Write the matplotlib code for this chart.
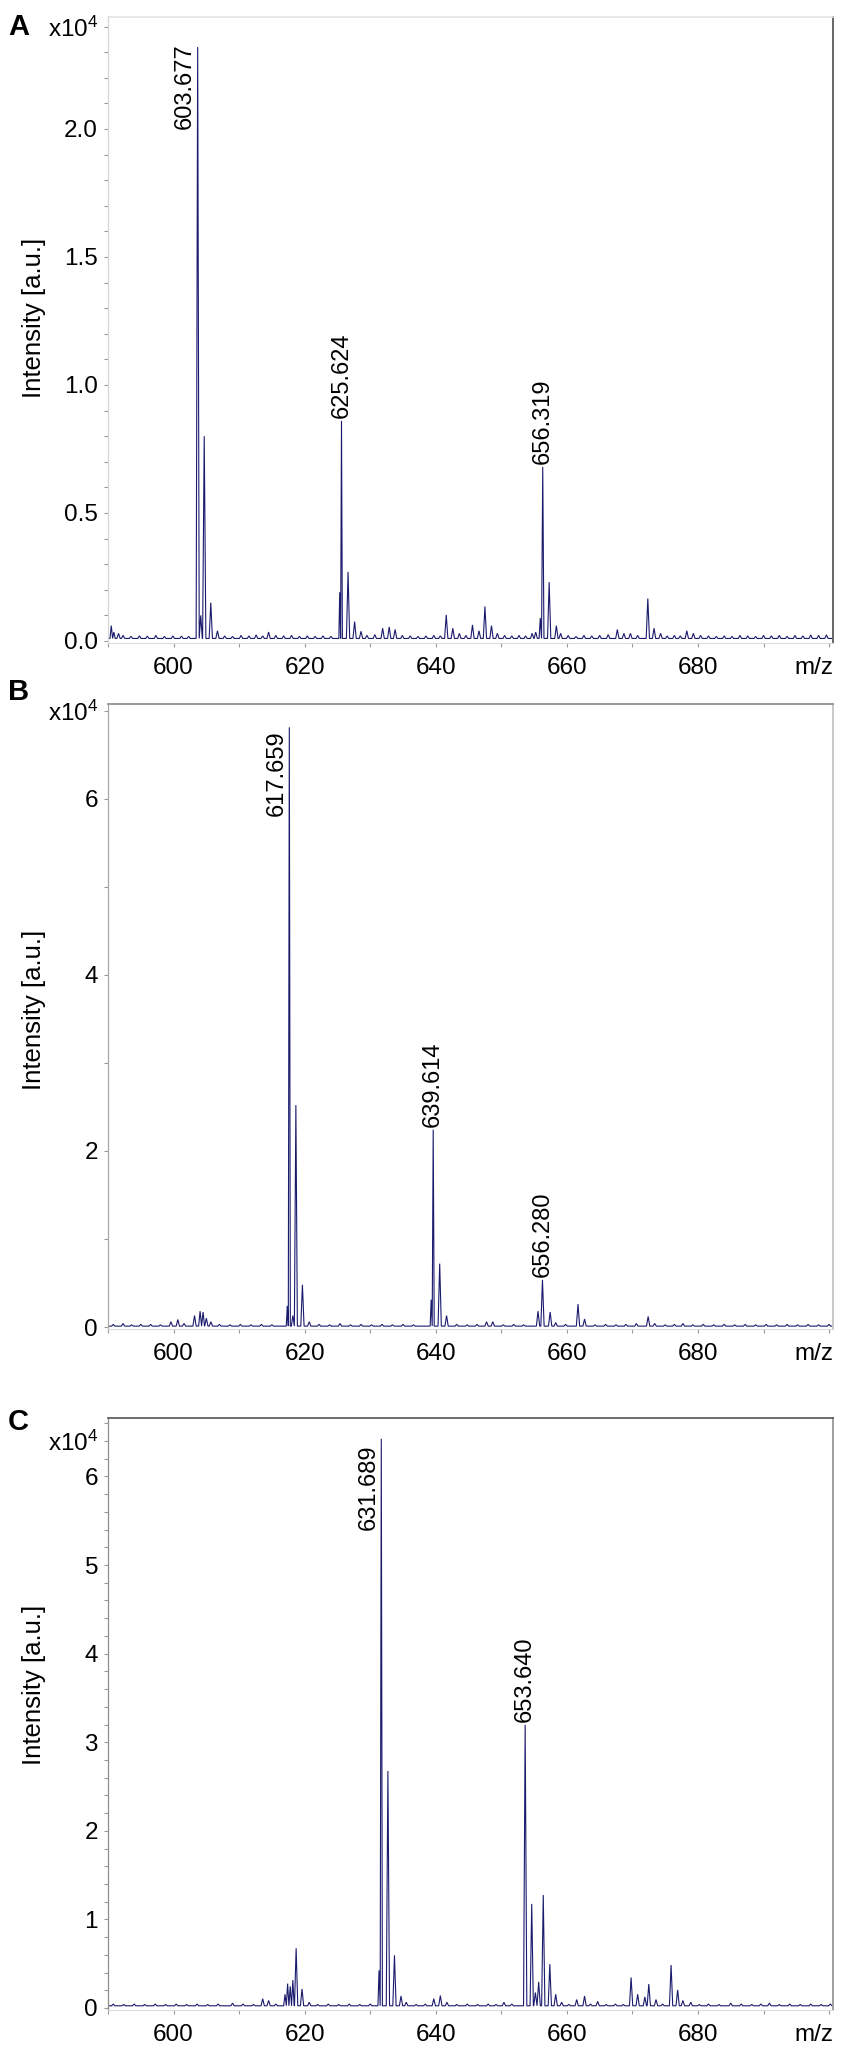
import matplotlib
matplotlib.use("Agg")
import matplotlib.pyplot as plt
from matplotlib.ticker import FixedLocator, FixedFormatter, MultipleLocator

plt.rcParams['font.family'] = ['Liberation Sans', 'DejaVu Sans']
plt.rcParams['mathtext.default'] = 'regular'

# ---------------- data (intensity in units of 10^4) ----------------
# Panel A
peaks_a = [(590.5, 0.05), (590.9, 0.025), (591.6, 0.02),
           (603.68, 2.31), (604.15, 0.09), (604.68, 0.79), (605.68, 0.14), (606.7, 0.03),
           (614.5, 0.025), (625.35, 0.18), (625.62, 0.85), (626.62, 0.26), (627.62, 0.066),
           (628.6, 0.028), (631.9, 0.04), (632.9, 0.045), (633.8, 0.035),
           (641.6, 0.092), (642.6, 0.04), (643.6, 0.02),
           (645.6, 0.053), (646.6, 0.03), (647.5, 0.125), (648.5, 0.05), (649.4, 0.02),
           (654.7, 0.02), (655.25, 0.025), (655.95, 0.08), (656.32, 0.67), (657.3, 0.22),
           (658.4, 0.05), (659.05, 0.02), (667.7, 0.035), (668.7, 0.02), (669.7, 0.02),
           (672.35, 0.156), (673.3, 0.04), (674.3, 0.02), (678.3, 0.03), (679.3, 0.02)]
ripple_a = [(592.3, 0.012), (593.5, 0.008), (594.8, 0.010), (596.0, 0.009), (597.3, 0.012),
            (598.6, 0.008), (599.9, 0.010), (601.2, 0.009), (602.3, 0.008), (607.8, 0.010),
            (609.0, 0.008), (610.3, 0.012), (611.5, 0.010), (612.6, 0.014), (613.6, 0.010),
            (615.6, 0.012), (616.8, 0.010), (618.0, 0.012), (619.2, 0.008), (620.4, 0.010),
            (621.6, 0.008), (622.8, 0.010), (624.0, 0.008), (629.5, 0.012), (630.7, 0.015),
            (634.9, 0.012), (636.1, 0.010), (637.3, 0.008), (638.5, 0.010), (639.7, 0.012),
            (640.7, 0.010), (644.6, 0.012), (650.5, 0.012), (651.6, 0.010), (652.7, 0.012),
            (653.7, 0.010), (660.2, 0.012), (661.4, 0.008), (662.6, 0.012), (663.8, 0.010),
            (665.0, 0.012), (666.3, 0.015), (670.8, 0.012), (675.3, 0.010), (676.4, 0.012),
            (677.3, 0.010), (680.4, 0.012), (681.6, 0.010), (682.8, 0.008), (684.0, 0.010),
            (685.2, 0.008), (686.4, 0.012), (687.6, 0.010), (688.8, 0.008), (690.0, 0.012),
            (691.2, 0.010), (692.4, 0.012), (693.6, 0.008), (694.8, 0.012), (696.0, 0.010),
            (697.2, 0.014), (698.4, 0.012), (699.6, 0.014)]
labels_a = [(603.68, 2.31, '603.677'), (625.62, 0.85, '625.624'), (656.32, 0.67, '656.319')]
base_a = 0.01

# Panel B
peaks_b = [(592.3, 0.03), (595.0, 0.02), (599.6, 0.05), (600.65, 0.075), (601.6, 0.03),
           (603.2, 0.12), (604.05, 0.17), (604.5, 0.16), (605.0, 0.09), (605.7, 0.05),
           (617.35, 0.23), (617.66, 6.80), (618.2, 0.12), (618.66, 2.51), (619.66, 0.47),
           (620.7, 0.05), (639.3, 0.30), (639.61, 2.23), (640.6, 0.71), (641.65, 0.12),
           (647.75, 0.05), (648.7, 0.05), (655.6, 0.17), (656.28, 0.525), (657.45, 0.16),
           (658.3, 0.04), (661.7, 0.25), (662.7, 0.08), (672.4, 0.11), (673.4, 0.03),
           (677.7, 0.03)]
ripple_b = [(590.8, 0.02), (593.6, 0.015), (596.5, 0.02), (598.0, 0.015), (607.0, 0.02),
            (608.6, 0.015), (610.2, 0.02), (611.8, 0.015), (613.4, 0.02), (615.0, 0.015),
            (622.2, 0.02), (623.8, 0.015), (625.4, 0.03), (627.0, 0.015), (628.6, 0.02),
            (630.2, 0.015), (631.8, 0.02), (633.4, 0.015), (635.0, 0.02), (636.6, 0.015),
            (643.2, 0.02), (644.8, 0.015), (646.3, 0.02), (650.3, 0.015), (651.9, 0.02),
            (653.4, 0.015), (659.8, 0.02), (664.3, 0.015), (665.9, 0.02), (667.5, 0.015),
            (669.0, 0.02), (670.6, 0.03), (675.0, 0.015), (676.4, 0.02), (679.2, 0.015),
            (680.8, 0.02), (682.4, 0.015), (684.0, 0.02), (685.6, 0.015), (687.2, 0.02),
            (688.8, 0.015), (690.4, 0.02), (692.0, 0.015), (693.6, 0.02), (695.2, 0.015),
            (696.8, 0.02), (698.4, 0.015), (700.0, 0.02)]
labels_b = [(617.66, 6.80, '617.659'), (639.61, 2.23, '639.614'), (656.28, 0.525, '656.280')]
base_b = 0.01

# Panel C
peaks_c = [(609.0, 0.03), (613.6, 0.08), (614.5, 0.06), (617.0, 0.13), (617.4, 0.25),
           (617.8, 0.22), (618.2, 0.29), (618.7, 0.65), (619.6, 0.19), (620.7, 0.04),
           (631.35, 0.40), (631.69, 6.40), (632.7, 2.65), (633.7, 0.57), (634.7, 0.11),
           (635.5, 0.04), (639.7, 0.08), (640.7, 0.115), (641.7, 0.04), (650.4, 0.04),
           (653.64, 3.17), (654.64, 1.15), (655.2, 0.15), (655.7, 0.27), (656.4, 1.25),
           (657.4, 0.47), (658.3, 0.13), (659.2, 0.04), (661.5, 0.07), (662.7, 0.11),
           (664.7, 0.05), (669.8, 0.32), (670.8, 0.13), (671.9, 0.10), (672.5, 0.245),
           (673.6, 0.07), (675.9, 0.46), (676.9, 0.18), (677.7, 0.06), (678.9, 0.04),
           (685.0, 0.03), (690.9, 0.03)]
ripple_c = [(590.8, 0.02), (592.4, 0.015), (594.0, 0.02), (595.6, 0.015), (597.2, 0.02),
            (598.8, 0.015), (600.4, 0.02), (602.0, 0.015), (603.6, 0.02), (605.2, 0.015),
            (606.8, 0.02), (610.6, 0.02), (612.2, 0.015), (615.6, 0.02), (622.0, 0.015),
            (623.6, 0.02), (625.2, 0.015), (626.8, 0.02), (628.4, 0.015), (630.0, 0.02),
            (637.0, 0.015), (638.4, 0.02), (643.2, 0.015), (644.8, 0.02), (646.4, 0.015),
            (648.0, 0.02), (649.2, 0.015), (651.6, 0.02), (660.3, 0.015), (663.6, 0.02),
            (666.0, 0.015), (667.4, 0.02), (668.6, 0.015), (674.6, 0.02), (680.2, 0.015),
            (681.6, 0.02), (683.2, 0.015), (686.6, 0.02), (688.2, 0.015), (689.6, 0.02),
            (692.4, 0.015), (694.0, 0.02), (695.6, 0.015), (697.2, 0.02), (698.8, 0.015),
            (700.2, 0.02)]
labels_c = [(631.69, 6.40, '631.689'), (653.64, 3.17, '653.640')]
base_c = 0.025

# axis ticks
xticks_major = [600, 620, 640, 660, 680]
xtick_labels = ['600', '620', '640', '660', '680']
yticks_a = [0.0, 0.5, 1.0, 1.5, 2.0, 2.4]
ylabels_a = ['0.0', '0.5', '1.0', '1.5', '2.0', 'x10$^4$']
yticks_b = [0, 2, 4, 6, 7]
ylabels_b = ['0', '2', '4', '6', 'x10$^4$']
yticks_c = [0, 1, 2, 3, 4, 5, 6, 6.4]
ylabels_c = ['0', '1', '2', '3', '4', '5', '6', 'x10$^4$']

# ---------------- figure ----------------
W, H = 851, 2060
fig = plt.figure(figsize=(W / 100, H / 100), dpi=100)

LINE = '#1b1b6e'
FS = 17.5
FS_PEAK = 17


def build(peaks, ripples, base, x0=589.0, x1=702.0, wmax=0.25):
    pk = sorted(peaks + ripples)
    xs, ys = [x0], [base]
    for i, (m, h) in enumerate(pk):
        gl = m - pk[i - 1][0] if i > 0 else 10.0
        gr = pk[i + 1][0] - m if i < len(pk) - 1 else 10.0
        w = min(wmax, gl / 2.0, gr / 2.0)
        xs += [m - w, m, m + w]
        ys += [base, base + h, base]
    xs.append(x1)
    ys.append(base)
    return xs, ys


all_labels = []


def panel(top_px, zero_px, ymax, peaks, ripples, base, labels, yt, yl, yminor,
          letter, letter_base_px, ylab_frac, spine_cols):
    left, right = 108, 833
    bottom_px = zero_px + 2
    px_per_unit = (zero_px - top_px) / ymax
    ymin = -(bottom_px - zero_px) / px_per_unit
    ax = fig.add_axes([left / W, 1 - bottom_px / H, (right - left) / W,
                       (bottom_px - top_px) / H])
    xs, ys = build(peaks, ripples, base)
    ax.plot(xs, ys, color=LINE, lw=0.8, solid_joinstyle='miter')
    ax.set_xlim(590.0, 700.6)
    ax.set_ylim(ymin, ymax)

    ax.xaxis.set_major_locator(FixedLocator(xticks_major))
    ax.xaxis.set_major_formatter(FixedFormatter(xtick_labels))
    ax.xaxis.set_minor_locator(MultipleLocator(10))
    ax.yaxis.set_major_locator(FixedLocator(yt))
    ax.yaxis.set_major_formatter(FixedFormatter(yl))
    ax.yaxis.set_minor_locator(MultipleLocator(yminor))
    ax.tick_params(axis='both', which='both', direction='out', color='#999999',
                   width=0.8, labelsize=FS, labelcolor='black')
    ax.tick_params(axis='both', which='major', length=3.2)
    ax.tick_params(axis='both', which='minor', length=2.8)
    ax.tick_params(axis='x', which='major', pad=7)
    ax.tick_params(axis='y', which='major', pad=4)

    for side, col in spine_cols.items():
        ax.spines[side].set_color(col)
    ax.spines['right'].set_linewidth(1.4)
    ax.spines['top'].set_linewidth(1.2)
    ax.spines['left'].set_linewidth(0.9)
    ax.spines['bottom'].set_linewidth(0.8)

    ax.set_ylabel('Intensity [a.u.]', fontsize=18.5)
    ax.yaxis.set_label_coords(-0.086, ylab_frac)

    ax.annotate('m/z', xy=(1.0, 0.0), xycoords='axes fraction',
                xytext=(0, -14), textcoords='offset pixels',
                ha='right', va='top', fontsize=FS)

    for m, h, txt in labels:
        ann = ax.annotate(txt, xy=(m, base + h), xytext=(0, 3), textcoords='offset pixels',
                          rotation=90, ha='center', va='bottom', fontsize=FS_PEAK)
        all_labels.append((ax, ann, m))

    fig.text(8 / W, 1 - letter_base_px / H, letter, fontsize=21, fontweight='bold',
             ha='left', va='baseline')
    return ax


panel(17, 641, 2.4375, peaks_a, ripple_a, base_a, labels_a, yticks_a, ylabels_a, 0.1,
      'A', 35, 0.52,
      {'top': '#e4e4e4', 'right': '#666666', 'left': '#d6d6d6', 'bottom': '#dddddd'})
panel(704, 1327, 7.075, peaks_b, ripple_b, base_b, labels_b, yticks_b, ylabels_b, 1,
      'B', 700, 0.51,
      {'top': '#8a8a8a', 'right': '#c8c8c8', 'left': '#a8a8a8', 'bottom': '#dddddd'})
panel(1418, 2008, 6.66, peaks_c, ripple_c, base_c, labels_c, yticks_c, ylabels_c, 0.2,
      'C', 1430, 0.55,
      {'top': '#555555', 'right': '#a0a0a0', 'left': '#8c8c8c', 'bottom': '#dddddd'})

# labels that would run past the top margin are moved down beside their peak
fig.canvas.draw()
renderer = fig.canvas.get_renderer()
for ax, ann, m in all_labels:
    bb = ann.get_window_extent(renderer)
    if bb.y1 > ax.bbox.y1 - 26:
        ann.xy = (m, ax.get_ylim()[1])
        ann.set_position((-2, -26))
        ann.set_ha('right')
        ann.set_va('top')

fig.savefig('out.png', dpi=100)
